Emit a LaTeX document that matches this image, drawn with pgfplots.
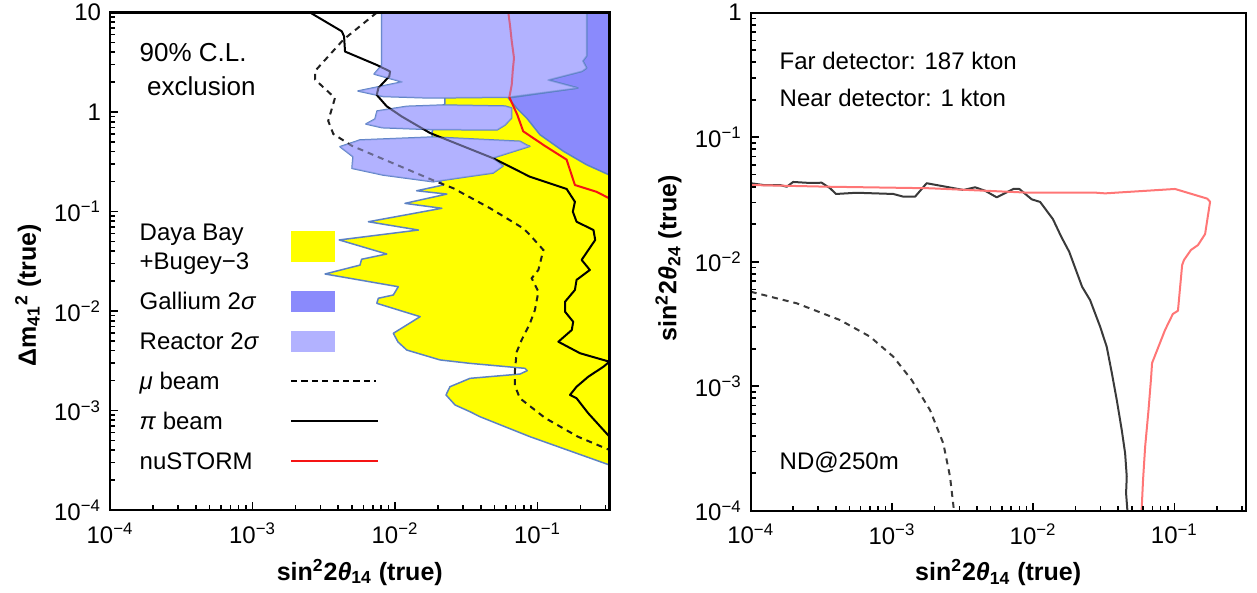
\documentclass[border=0pt]{standalone}
\usepackage{fontspec}
\setmainfont{Liberation Sans}
\usepackage{pgfplots}
\pgfplotsset{compat=1.18}
\definecolor{dyb}{RGB}{255,255,0}
\definecolor{gal}{RGB}{138,138,252}
\definecolor{rea}{RGB}{178,178,255}
\definecolor{edgec}{RGB}{92,130,196}
\definecolor{nured}{RGB}{245,20,20}
\definecolor{lred}{RGB}{255,118,118}
\definecolor{dgrey}{RGB}{58,58,58}
\begin{document}
\begin{tikzpicture}
\useasboundingbox (0,0) rectangle (628.5bp,296.5bp);
% ---------------- left panel ----------------
\begin{axis}[
  xmode=log, ymode=log, scale only axis, axis on top,
  xtick pos=left, ytick pos=left, tick align=inside,
  major tick length=4bp, minor tick length=2.5bp,
  tick style={black, line width=0.8bp},
  axis line style={line width=1.2bp},
  tick label style={font=\fontsize{12bp}{14bp}\selectfont},
  xticklabel style={yshift=-3bp},
  yticklabel style={xshift=-1bp},
  label style={font=\fontsize{12.5bp}{15bp}\selectfont\bfseries},
  xmin=1e-4, xmax=0.32,
  xtick={1e-4,1e-3,1e-2,1e-1},
  xticklabels={10\textsuperscript{−4},10\textsuperscript{−3},10\textsuperscript{−2},10\textsuperscript{−1}},
  minor xtick={2e-4,3e-4,4e-4,5e-4,6e-4,7e-4,8e-4,9e-4,2e-3,3e-3,4e-3,5e-3,6e-3,7e-3,8e-3,9e-3,2e-2,3e-2,4e-2,5e-2,6e-2,7e-2,8e-2,9e-2,0.2,0.3},
  xlabel={sin\textsuperscript{2}2\textit{θ}\textsubscript{14} (true)},
  xlabel style={at={(axis description cs:0.5,-0.1405)}, anchor=base},
  at={(55bp,41.45bp)}, anchor=south west,
  width=249.75bp, height=248.75bp,
  ymin=1e-4, ymax=10,
  ytick={1e-4,1e-3,1e-2,1e-1,1,10},
  yticklabels={10\textsuperscript{−4},10\textsuperscript{−3},10\textsuperscript{−2},10\textsuperscript{−1},1,10},
  minor ytick={2e-4,3e-4,4e-4,5e-4,6e-4,7e-4,8e-4,9e-4,2e-3,3e-3,4e-3,5e-3,6e-3,7e-3,8e-3,9e-3,2e-2,3e-2,4e-2,5e-2,6e-2,7e-2,8e-2,9e-2,0.2,0.3,0.4,0.5,0.6,0.7,0.8,0.9,2,3,4,5,6,7,8,9},
  ylabel={Δm\textsubscript{41}\textsuperscript{2} (true)},
  ylabel style={at={(axis description cs:-0.164,0.432)}, anchor=center},
]
% Daya Bay + Bugey-3
\addplot[draw=edgec, line width=0.75bp, line join=round, fill=dyb] coordinates {
(2.24e-2,1.205) (2.24e-2,1.49) (0.34,1.49) (0.34,2.84e-4) (0.32,2.84e-4)
(8.85e-2,5.47e-4) (3.94e-2,8.69e-4) (3.36e-2,9.75e-4) (2.64e-2,1.138e-3)
(2.28e-2,1.436e-3) (2.43e-2,1.738e-3) (3.36e-2,2.11e-3) (7.53e-2,2.33e-3)
(8.47e-2,2.52e-3) (8.17e-2,2.66e-3) (3.36e-2,2.985e-3) (2.07e-2,3.23e-3)
(1.21e-2,4.06e-3) (1.05e-2,4.89e-3) (9.73e-3,5.98e-3) (1.50e-2,8.79e-3)
(7.45e-3,1.197e-2) (7.64e-3,1.346e-2) (9.73e-3,1.452e-2) (1.054e-2,1.758e-2)
(3.23e-3,2.36e-2) (5.68e-3,2.90e-2) (5.83e-3,3.32e-2) (8.75e-3,3.75e-2)
(4.06e-3,5.19e-2) (1.46e-2,6.53e-2) (6.50e-3,7.91e-2) (2.13e-2,0.108)
(1.175e-2,0.121) (2.31e-2,0.150) (1.42e-2,0.162) (2.18e-2,0.185)
(2.07e-2,0.203) (1.82e-2,0.330) (1.82e-2,0.631) (2.07e-2,1.125) (2.24e-2,1.205)
};
% Gallium
\addplot[draw=edgec, line width=0.75bp, line join=round, fill=gal] coordinates {
(0.221,11) (0.34,11) (0.34,0.225) (0.32,0.233) (0.221,0.296) (0.152,0.404)
(0.104,0.593) (8.39e-2,0.873) (7.14e-2,1.099) (6.24e-2,1.386) (0.192,1.746)
(0.1186,2.10) (0.205,2.57) (0.221,2.77) (0.208,3.26) (0.221,3.66) (0.221,11)
};
% Reactor lobes
\addplot[draw=edgec, line width=0.75bp, line join=round, fill=rea] coordinates {
(8.07e-3,11) (8.07e-3,2.97) (7.13e-3,2.41) (1.12e-2,2.01) (5.50e-3,1.63)
(8.24e-3,1.435) (1.76e-2,1.386) (6.21e-2,1.41) (0.192,1.746) (0.1186,2.10)
(0.205,2.57) (0.221,2.77) (0.208,3.26) (0.221,3.66) (0.221,11) (8.07e-3,11)
};
\addplot[draw=edgec, line width=0.75bp, line join=round, fill=rea] coordinates {
(2.17e-2,1.178) (1.21e-2,1.143) (7.48e-3,1.026) (7.24e-3,0.853) (6.25e-3,0.759)
(8.11e-3,0.697) (1.76e-2,0.668) (5.20e-2,0.661) (5.92e-2,0.741) (6.59e-2,0.873)
(6.59e-2,1.099) (5.92e-2,1.151) (2.17e-2,1.178)
};
\addplot[draw=edgec, line width=0.75bp, line join=round, fill=rea] coordinates {
(8.39e-2,0.467) (7.53e-2,0.509) (1.85e-2,0.562) (5.68e-3,0.525) (4.11e-3,0.449)
(5.07e-3,0.356) (4.99e-3,0.272) (8.24e-3,0.233) (1.85e-2,0.1995) (3.36e-2,0.226)
(4.88e-2,0.244) (5.73e-2,0.287) (4.88e-2,0.346) (8.85e-2,0.453) (8.39e-2,0.467)
};
% mu beam
\addplot[black!88, line width=1bp, dash pattern=on 3bp off 2.5bp] coordinates {
(7.45e-3,10) (4.34e-3,5.34) (2.75e-3,2.59) (2.75e-3,2.12) (3.79e-3,1.386)
(3.40e-3,0.815) (3.69e-3,0.603) (4.97e-3,0.459) (1.96e-2,0.1995) (2.57e-2,0.1714)
(4.65e-2,0.108) (7.94e-2,6.79e-2) (8.85e-2,5.82e-2) (0.110,4.11e-2) (0.1014,2.59e-2)
(9.10e-2,2.14e-2) (0.1014,1.567e-2) (9.59e-2,1.026e-2) (8.85e-2,7.53e-3)
(7.74e-2,5.13e-3) (7.14e-2,3.88e-3) (6.95e-2,2.56e-3) (6.95e-2,1.766e-3)
(7.53e-2,1.33e-3) (0.113,8.43e-4) (0.192,5.47e-4) (0.32,4.02e-4)
};
% pi beam
\addplot[black, line width=1bp, line join=round] coordinates {
(2.54e-3,10) (4.23e-3,6.49) (4.39e-3,5.78) (4.46e-3,4.06) (7.48e-3,2.97)
(9.23e-3,2.56) (9.12e-3,2.29) (7.64e-3,1.746) (7.45e-3,1.486) (8.75e-3,1.143)
(1.114e-2,0.904) (1.76e-2,0.617) (4.90e-2,0.343) (8.85e-2,0.224) (0.160,0.169)
(0.183,0.1256) (0.177,9.98e-2) (0.188,7.91e-2) (0.247,6.53e-2) (0.254,5.19e-2)
(0.204,3.27e-2) (0.233,2.59e-2) (0.188,2.06e-2) (0.183,1.63e-2) (0.156,1.242e-2)
(0.156,9.86e-3) (0.178,7.82e-3) (0.174,6.46e-3) (0.140,4.92e-3) (0.199,3.77e-3)
(0.32,3.10e-3) (0.290,2.76e-3) (0.227,2.19e-3) (0.188,1.738e-3) (0.169,1.436e-3)
(0.188,1.33e-3) (0.227,9.40e-4) (0.32,5.47e-4)
};
% nuSTORM
\addplot[nured, line width=1bp, line join=round] coordinates {
(6.24e-2,10) (6.41e-2,7.50) (6.59e-2,5.19) (6.84e-2,3.50) (6.70e-2,2.59)
(6.59e-2,1.87) (6.34e-2,1.41) (7.21e-2,0.942) (7.94e-2,0.641) (0.113,0.456)
(0.160,0.333) (0.169,0.262) (0.183,0.185) (0.260,0.158) (0.32,0.1355)
};
% reactor veil over the curves
\addplot[draw=none, fill=rea, fill opacity=0.5] coordinates {
(8.07e-3,11) (8.07e-3,2.97) (7.13e-3,2.41) (1.12e-2,2.01) (5.50e-3,1.63)
(8.24e-3,1.435) (1.76e-2,1.386) (6.21e-2,1.41) (0.192,1.746) (0.1186,2.10)
(0.205,2.57) (0.221,2.77) (0.208,3.26) (0.221,3.66) (0.221,11) (8.07e-3,11)
};
\addplot[draw=none, fill=rea, fill opacity=0.5] coordinates {
(2.17e-2,1.178) (1.21e-2,1.143) (7.48e-3,1.026) (7.24e-3,0.853) (6.25e-3,0.759)
(8.11e-3,0.697) (1.76e-2,0.668) (5.20e-2,0.661) (5.92e-2,0.741) (6.59e-2,0.873)
(6.59e-2,1.099) (5.92e-2,1.151) (2.17e-2,1.178)
};
\addplot[draw=none, fill=rea, fill opacity=0.5] coordinates {
(8.39e-2,0.467) (7.53e-2,0.509) (1.85e-2,0.562) (5.68e-3,0.525) (4.11e-3,0.449)
(5.07e-3,0.356) (4.99e-3,0.272) (8.24e-3,0.233) (1.85e-2,0.1995) (3.36e-2,0.226)
(4.88e-2,0.244) (5.73e-2,0.287) (4.88e-2,0.346) (8.85e-2,0.453) (8.39e-2,0.467)
};
\end{axis}
% ---------------- right panel ----------------
\begin{axis}[
  xmode=log, ymode=log, scale only axis, axis on top,
  xtick pos=left, ytick pos=left, tick align=inside,
  major tick length=4bp, minor tick length=2.5bp,
  tick style={black, line width=0.8bp},
  axis line style={line width=1.2bp},
  tick label style={font=\fontsize{12bp}{14bp}\selectfont},
  xticklabel style={yshift=-3bp},
  yticklabel style={xshift=-1bp},
  label style={font=\fontsize{12.5bp}{15bp}\selectfont\bfseries},
  xmin=1e-4, xmax=0.32,
  xtick={1e-4,1e-3,1e-2,1e-1},
  xticklabels={10\textsuperscript{−4},10\textsuperscript{−3},10\textsuperscript{−2},10\textsuperscript{−1}},
  minor xtick={2e-4,3e-4,4e-4,5e-4,6e-4,7e-4,8e-4,9e-4,2e-3,3e-3,4e-3,5e-3,6e-3,7e-3,8e-3,9e-3,2e-2,3e-2,4e-2,5e-2,6e-2,7e-2,8e-2,9e-2,0.2,0.3},
  xlabel={sin\textsuperscript{2}2\textit{θ}\textsubscript{14} (true)},
  xlabel style={at={(axis description cs:0.5,-0.1405)}, anchor=base},
  at={(375.35bp,41.15bp)}, anchor=south west,
  width=247.5bp, height=249bp,
  ymin=1e-4, ymax=1,
  ytick={1e-4,1e-3,1e-2,1e-1,1},
  yticklabels={10\textsuperscript{−4},10\textsuperscript{−3},10\textsuperscript{−2},10\textsuperscript{−1},1},
  minor ytick={2e-4,3e-4,4e-4,5e-4,6e-4,7e-4,8e-4,9e-4,2e-3,3e-3,4e-3,5e-3,6e-3,7e-3,8e-3,9e-3,2e-2,3e-2,4e-2,5e-2,6e-2,7e-2,8e-2,9e-2,0.2,0.3,0.4,0.5,0.6,0.7,0.8,0.9},
  ylabel={sin\textsuperscript{2}2\textit{θ}\textsubscript{24} (true)},
  ylabel style={at={(axis description cs:-0.166,0.507)}, anchor=center},
]
\addplot[dgrey, line width=1bp, dash pattern=on 3bp off 2.5bp] coordinates {
(1e-4,5.74e-3) (2.12e-4,4.63e-3) (4.29e-4,3.40e-3) (7.00e-4,2.50e-3) (1.023e-3,1.726e-3)
(1.38e-3,1.122e-3) (1.86e-3,6.44e-4) (2.31e-3,3.48e-4) (2.58e-3,1.875e-4) (2.75e-3,1e-4)
};
\addplot[dgrey, line width=1bp, line join=round] coordinates {
(1e-4,4.27e-2) (1.23e-4,4.13e-2) (1.61e-4,4.13e-2) (1.80e-4,4.00e-2) (2.00e-4,4.37e-2)
(2.63e-4,4.29e-2) (3.18e-4,4.31e-2) (3.65e-4,3.89e-2) (4.02e-4,3.50e-2) (5.63e-4,3.58e-2)
(1.023e-3,3.50e-2) (1.205e-3,3.33e-2) (1.459e-3,3.33e-2) (1.762e-3,4.27e-2) (3.21e-3,3.77e-2)
(3.88e-3,3.96e-2) (4.56e-3,3.72e-2) (5.52e-3,3.29e-2) (7.24e-3,3.84e-2) (7.98e-3,3.84e-2)
(9.77e-3,3.17e-2) (1.12e-2,3.02e-2) (1.38e-2,2.20e-2) (1.58e-2,1.589e-2) (1.80e-2,1.202e-2)
(2.22e-2,6.30e-3) (2.53e-2,4.92e-3) (2.98e-2,3.01e-3) (3.32e-2,2.07e-3) (3.61e-2,1.27e-3)
(3.91e-2,7.74e-4) (4.24e-2,4.45e-4) (4.48e-2,2.89e-4) (4.60e-2,1.875e-4) (4.55e-2,1.38e-4)
(4.65e-2,1e-4)
};
\addplot[lred, line width=1bp, line join=round] coordinates {
(1e-4,4.13e-2) (3.65e-4,4.00e-2) (1.86e-3,3.89e-2) (9.51e-3,3.58e-2) (2.82e-2,3.58e-2)
(3.23e-2,3.54e-2) (0.101,3.84e-2) (0.171,3.21e-2) (0.179,3.03e-2) (0.165,1.667e-2)
(0.147,1.361e-2) (0.131,1.242e-2) (0.117,1.033e-2) (0.1135,9.40e-3) (0.106,4.04e-3)
(9.75e-2,3.80e-3) (8.59e-2,2.83e-3) (6.95e-2,1.535e-3) (6.84e-2,1.164e-3) (6.56e-2,6.44e-4)
(6.21e-2,3.27e-4) (6.00e-2,1.766e-4) (5.86e-2,1e-4)
};
\end{axis}
% ---------------- annotations and legend ----------------
\begin{scope}[font=\fontsize{12bp}{14bp}\selectfont]
\node[anchor=base west, inner sep=0, font=\fontsize{13bp}{15bp}\selectfont] at (69.65bp,265.5bp) {90\% C.L.};
\node[anchor=base west, inner sep=0, font=\fontsize{13bp}{15bp}\selectfont] at (73.35bp,248.5bp) {exclusion};
\node[anchor=base west, inner sep=0] at (69.65bp,176.15bp) {Daya Bay};
\node[anchor=base west, inner sep=0] at (69.65bp,161.85bp) {+Bugey−3};
\node[anchor=base west, inner sep=0] at (69.65bp,141.85bp) {Gallium 2\textit{σ}};
\node[anchor=base west, inner sep=0] at (69.65bp,121.5bp) {Reactor 2\textit{σ}};
\node[anchor=base west, inner sep=0] at (69.65bp,101.85bp) {\textit{μ} beam};
\node[anchor=base west, inner sep=0] at (69.65bp,81.85bp) {\textit{π} beam};
\node[anchor=base west, inner sep=0] at (69.65bp,61.85bp) {nuSTORM};
\fill[dyb] (145.5bp,165.5bp) rectangle (167.5bp,181bp);
\fill[gal] (145.5bp,140.5bp) rectangle (167.5bp,151bp);
\fill[rea] (145.5bp,120.5bp) rectangle (167.5bp,131bp);
\draw[black, line width=1bp, dash pattern=on 3.1bp off 2.1bp] (145.5bp,106bp) -- (188bp,106bp);
\draw[black, line width=1bp] (145.5bp,86bp) -- (189bp,86bp);
\draw[nured, line width=1bp] (145.5bp,66bp) -- (189bp,66bp);
\node[anchor=base west, inner sep=0] at (389.65bp,261.5bp) {Far detector: 187 kton};
\node[anchor=base west, inner sep=0] at (389.65bp,243.15bp) {Near detector: 1 kton};
\node[anchor=base west, inner sep=0] at (389.65bp,61.5bp) {ND@250m};
\end{scope}
\end{tikzpicture}
\end{document}
